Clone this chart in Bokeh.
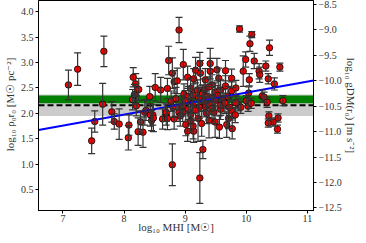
from bokeh.plotting import figure
from bokeh.models import (Range1d, LinearAxis, FixedTicker, CustomJSTickFormatter, Title,
                          ColumnDataSource, Whisker, TeeHead, BoxAnnotation, Span)
from bokeh.embed import file_html
from bokeh.resources import INLINE

# ---- data ----
log_mhi = [7.09, 7.24, 7.67, 7.65, 7.52, 7.47, 7.80, 7.84, 7.92,
           8.15, 8.19, 8.24, 8.14, 8.51, 8.60, 8.42, 8.71, 8.82, 8.87, 8.79, 8.97, 8.73, 8.90,
           8.20, 8.34, 8.47, 8.77, 8.85, 8.80, 8.93, 8.69, 8.08, 8.07, 8.23, 8.31, 8.27, 8.36,
           8.43, 8.45, 8.48, 8.63, 8.71, 8.82, 8.69, 8.79, 8.90, 8.17,
           9.04, 9.14, 9.17, 9.24, 9.25, 9.41, 9.41, 9.52, 9.66, 9.33, 9.44, 9.55, 9.76, 9.66,
           9.09, 9.20, 9.31, 9.39, 9.49, 9.58, 9.76, 9.89,
           8.98, 9.05, 9.13, 9.22, 9.28, 9.36, 9.45, 9.53, 9.62, 9.70,
           8.96, 9.09, 9.01, 9.04, 9.14, 9.09, 9.21, 9.29, 9.24, 9.39, 9.49, 9.56, 9.68, 9.77,
           9.71, 9.76, 9.58, 9.47, 9.33, 9.23, 8.96, 9.58,
           9.00, 9.12, 9.17, 9.30, 9.40, 9.50, 9.65, 9.72, 9.05, 9.35, 9.44, 8.92, 9.13, 9.27,
           10.09, 10.06, 10.38, 9.99, 10.13, 9.95, 10.32, 10.55, 10.21, 10.22, 10.36, 10.05,
           10.46, 9.83, 10.04, 10.26, 10.29, 10.60, 10.00, 9.87, 10.34, 9.83, 10.03, 9.91,
           10.37, 10.44, 10.36, 10.52, 10.51, 9.82, 10.08]
log_sigma = [2.56, 2.87, 3.22, 2.18, 1.84, 1.46, 2.03, 1.84, 1.79,
             2.71, 2.58, 2.47, 2.27, 2.51, 2.46, 2.33, 2.49, 2.62, 2.64, 2.79, 2.96, 3.04, 3.64,
             2.15, 2.02, 1.97, 2.24, 2.29, 2.12, 2.12, 1.97, 1.77, 1.52, 1.64, 1.63, 1.83, 2.06,
             1.97, 1.86, 1.91, 1.89, 1.90, 1.89, 2.02, 0.99, 2.02, 2.37,
             2.71, 2.68, 2.85, 2.98, 2.79, 2.98, 2.83, 2.86, 2.84, 2.66, 2.56, 2.69, 2.69, 2.54,
             2.49, 2.46, 2.46, 2.52, 2.42, 2.46, 2.44, 3.66,
             2.38, 2.33, 2.36, 2.31, 2.38, 2.33, 2.30, 2.35, 2.29, 2.33,
             2.02, 1.98, 1.78, 1.65, 1.65, 1.85, 1.90, 1.29, 0.73, 1.87, 1.83, 1.73, 1.78, 1.70,
             1.90, 2.05, 2.08, 2.02, 2.13, 2.12, 2.15, 2.16,
             2.25, 2.20, 2.06, 2.24, 2.18, 2.26, 2.20, 2.12, 2.08, 2.00, 2.10, 1.95, 1.75, 1.80,
             3.55, 3.37, 3.29, 3.06, 3.03, 2.83, 2.93, 2.91, 2.83, 2.76, 2.68, 2.66,
             2.58, 2.50, 2.40, 2.34, 2.32, 2.25, 2.25, 2.17, 2.22, 2.21, 2.14, 2.12,
             1.95, 1.83, 1.81, 1.91, 1.69, 1.97, 2.20]
sigma_err = [0.29, 0.32, 0.30, 0.41, 0.21, 0.25, 0.20, 0.15, 0.30,
             0.19, 0.20, 0.22, 0.20, 0.27, 0.25, 0.20, 0.20, 0.22, 0.25, 0.30, 0.30, 0.28, 0.25,
             0.20, 0.25, 0.20, 0.20, 0.22, 0.20, 0.18, 0.20, 0.20, 0.24, 0.27, 0.30, 0.22, 0.20,
             0.22, 0.20, 0.27, 0.20, 0.22, 0.20, 0.18, 0.41, 0.18, 0.20,
             0.22, 0.20, 0.25, 0.22, 0.25, 0.30, 0.25, 0.22, 0.20, 0.22, 0.20, 0.20, 0.18, 0.20,
             0.20, 0.20, 0.22, 0.20, 0.18, 0.20, 0.18, 0.06,
             0.20, 0.20, 0.22, 0.20, 0.18, 0.20, 0.22, 0.20, 0.18, 0.20,
             0.18, 0.20, 0.22, 0.20, 0.22, 0.20, 0.45, 0.18, 0.50, 0.35, 0.30, 0.22, 0.25, 0.20,
             0.20, 0.18, 0.20, 0.22, 0.20, 0.22, 0.20, 0.20,
             0.20, 0.20, 0.20, 0.20, 0.20, 0.20, 0.20, 0.20, 0.20, 0.20, 0.20, 0.20, 0.25, 0.25,
             0.06, 0.15, 0.15, 0.15, 0.15, 0.30, 0.10, 0.08, 0.15, 0.15, 0.10, 0.12,
             0.12, 0.15, 0.12, 0.12, 0.10, 0.10, 0.10, 0.12, 0.10, 0.12, 0.10, 0.12,
             0.08, 0.08, 0.08, 0.08, 0.08, 0.15, 0.10]

# constant-surface-density band, its median, and the scatter band
green_band = (2.20, 2.35)
grey_band = (1.95, 2.37)
median_level = 2.16
# fitted relation  log(rho0 r0) = intercept + slope * log(MHI)
fit_slope = 0.216
fit_intercept = 0.247
# offset between left axis and right axis (log g = log(rho0 r0) + offset)
g_offset = -12.64

x_ticks = [7, 8, 9, 10, 11]
y_ticks = [0.5, 1.0, 1.5, 2.0, 2.5, 3.0, 3.5, 4.0]
g_ticks = [-12.5, -12.0, -11.5, -11.0, -10.5, -10.0, -9.5, -9.0, -8.5]

x_label = "log₁₀ MHI [M☉]"
y_label = "log₁₀ ρ₀r₀ [M☉ pc⁻²]"
g_label = "log₁₀ gDM(r₀) [m s⁻²]"

x_lo, x_hi = 6.6, 11.1
y_lo, y_hi = 0.09, 4.22

FONT = "Liberation Serif"

p = figure(width=358, height=235, output_backend="svg", toolbar_location=None,
           x_range=Range1d(x_lo, x_hi), y_range=Range1d(y_lo, y_hi),
           min_border_left=29, min_border_right=5, min_border_top=0, min_border_bottom=5)
p.extra_y_ranges = {"g": Range1d(y_lo + g_offset, y_hi + g_offset)}
p.grid.visible = False
p.outline_line_color = "black"
p.outline_line_width = 1
p.background_fill_color = "white"

lower = [s - e for s, e in zip(log_sigma, sigma_err)]
upper = [s + e for s, e in zip(log_sigma, sigma_err)]
src = ColumnDataSource(dict(x=log_mhi, y=log_sigma, lower=lower, upper=upper))

p.add_layout(BoxAnnotation(bottom=grey_band[0], top=grey_band[1], fill_color="#cccccc",
                           fill_alpha=1.0, line_color=None, level="underlay"))
p.add_layout(BoxAnnotation(bottom=green_band[0], top=green_band[1], fill_color="#008000",
                           fill_alpha=1.0, line_color=None, level="underlay"))
p.add_layout(Span(location=median_level, dimension="width", line_color="black",
                  line_width=2, line_dash="6 3", level="underlay"))

wh = Whisker(source=src, base="x", lower="lower", upper="upper", line_color="#333333",
             line_width=1.2,
             upper_head=TeeHead(size=7, line_color="#333333", line_width=1.2),
             lower_head=TeeHead(size=7, line_color="#333333", line_width=1.2),
             level="glyph")
p.add_layout(wh)
p.scatter("x", "y", source=src, size=6.5, fill_color="red", line_color="black", line_width=0.8)

# fitted relation across the whole x range
fit_x = [x_lo, x_hi]
fit_y = [fit_intercept + fit_slope * v for v in fit_x]
p.line(fit_x, fit_y, line_color="blue", line_width=2)

fmt = CustomJSTickFormatter(code="return tick.toFixed(1).replace('-', '\u2212');")

p.xaxis.ticker = FixedTicker(ticks=x_ticks)
p.yaxis.ticker = FixedTicker(ticks=y_ticks)
p.yaxis.formatter = fmt
p.xaxis.axis_label = x_label
p.yaxis.axis_label = y_label

gax = LinearAxis(y_range_name="g", ticker=FixedTicker(ticks=g_ticks), formatter=fmt)
p.add_layout(gax, "right")

for ax in [p.xaxis[0], p.yaxis[0], gax]:
    ax.major_label_text_font = FONT
    ax.major_label_text_font_size = "10px"
    ax.major_label_text_color = "#333333"
    ax.axis_label_text_font = FONT
    ax.axis_label_text_font_size = "11px"
    ax.axis_label_text_font_style = "normal"
    ax.axis_label_text_color = "#333333"
    ax.minor_tick_line_color = None
    ax.major_tick_in = 0
    ax.major_tick_out = 3
    ax.major_label_standoff = 2
    ax.axis_label_standoff = 2
    ax.axis_line_color = "black"
p.xaxis[0].major_label_standoff = 1
p.xaxis[0].axis_label_standoff = -4

# right-hand axis title
p.add_layout(Title(text=g_label, align="center", text_font=FONT, text_font_size="11px",
                   text_font_style="normal", text_color="#333333", standoff=0, offset=0),
             "right")

html = file_html(p, INLINE)
open("out.html", "w").write(html)
